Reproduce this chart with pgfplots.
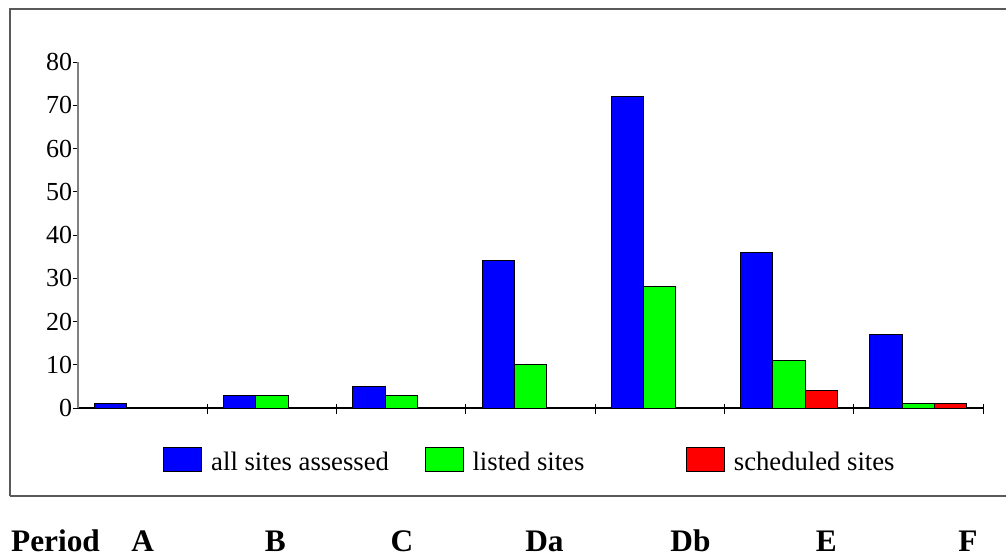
\documentclass[border=0pt]{standalone}
\usepackage{fontspec}
\setmainfont{Liberation Serif}
\usepackage{pgfplots}
\pgfplotsset{compat=1.18}
\begin{document}
\begin{tikzpicture}
\begin{axis}[
  scale only axis, width=678.75pt, height=259.5pt,
  xmin=-0.5, xmax=6.5, ymin=0, ymax=80,
  axis x line=bottom, axis y line=left,
  axis line style={-},
  x axis line style={black, line width=0.9pt},
  y axis line style={gray, line width=1.2pt},
  ytick={0,10,...,80},
  xtick={0,1.027,2.006,3.108,4.237,5.289,6.383},
  xticklabels={A,B,C,Da,Db,E,F},
  minor xtick={0.5,1.5,...,6.5},
  tick align=outside,
  major tick length=3.75pt,
  minor tick length=7.5pt,
  major x tick style={draw=none},
  minor x tick style={black, line width=0.75pt, yshift=3pt},
  y tick style={black, line width=0.75pt},
  xticklabel style={font=\bfseries\fontsize{23.5}{28}\selectfont, anchor=base, yshift=-103.5pt, inner sep=0pt},
  yticklabel style={font=\fontsize{19.5}{23}\selectfont, inner sep=0pt, xshift=-0.5pt},
  /pgf/number format/assume math mode=true,
  clip=false,
  ybar, bar width=0.25,
  legend columns=3,
  legend style={at={(0.0939,-0.1503)}, anchor=west, draw=none, fill=none, inner sep=0pt,
    nodes={inner sep=0pt, font=\fontsize{20}{24}\selectfont},
    /tikz/every odd column/.append style={column sep=6.75pt}},
  legend image code/.code={\draw[#1] (0pt,-7pt) rectangle (28.5pt,11pt);},
]
\addplot[fill=blue, draw=black, line width=0.75pt, bar shift=-0.25] coordinates {(0,1) (1,3) (2,5) (3,34) (4,72) (5,36) (6,17)};
\addlegendentry{\makebox[160pt][l]{all sites assessed}}
\addplot[fill=green, draw=black, line width=0.75pt, bar shift=0] coordinates {(1,3) (2,3) (3,10) (4,28) (5,11) (6,1)};
\addlegendentry{\makebox[160pt][l]{listed sites}}
\addplot[fill=red, draw=black, line width=0.75pt, bar shift=0.25] coordinates {(5,4) (6,1)};
\addlegendentry{\makebox[160pt][l]{scheduled sites}}
\node[font=\bfseries\fontsize{23.5}{28}\selectfont, anchor=base, inner sep=0pt] at ([yshift=-107.25pt]axis cs:-0.674,0) {Period};
\end{axis}
\draw[gray!70!black, line width=1.2pt] (-51pt,-66pt) -- (-51pt,299.25pt) -- (710pt,299.25pt);
\draw[gray!70!black, line width=1.2pt] (-51pt,-66pt) -- (710pt,-66pt);
\pgfresetboundingbox
\useasboundingbox (-58.5pt,-112.5pt) rectangle (696pt,306pt);
\end{tikzpicture}
\end{document}
